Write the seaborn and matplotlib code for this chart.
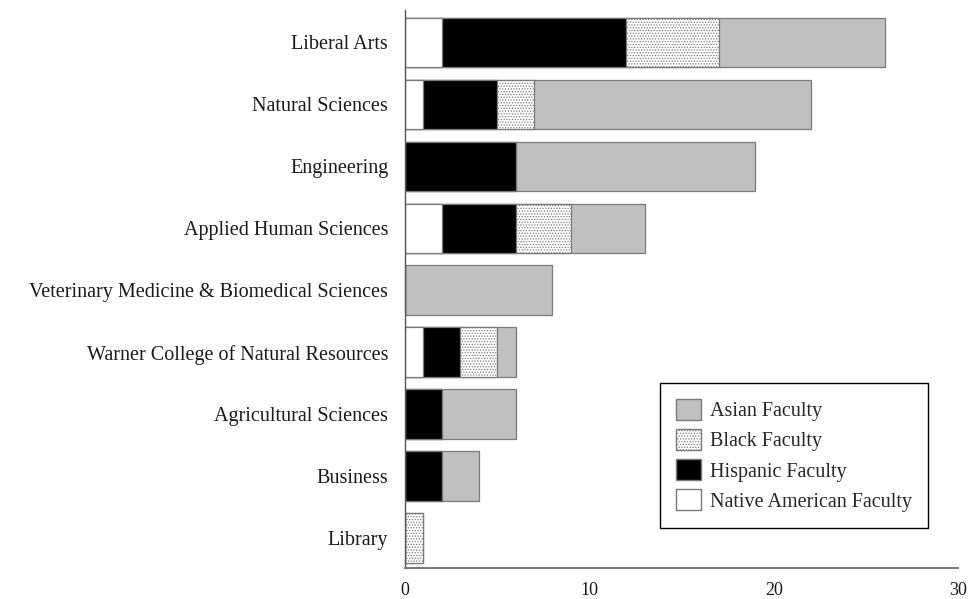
import numpy as np
import pandas as pd
import matplotlib
matplotlib.use("Agg")
import matplotlib.pyplot as plt
from matplotlib.patches import Patch
import seaborn as sns

colleges = [
    "Liberal Arts",
    "Natural Sciences",
    "Engineering",
    "Applied Human Sciences",
    "Veterinary Medicine & Biomedical Sciences",
    "Warner College of Natural Resources",
    "Agricultural Sciences",
    "Business",
    "Library",
]
native = [2, 1, 0, 2, 0, 1, 0, 0, 0]
hispanic = [10, 4, 6, 4, 0, 2, 2, 2, 0]
black = [5, 2, 0, 3, 0, 2, 0, 0, 1]
asian = [9, 15, 13, 4, 8, 1, 4, 2, 0]
x_ticks = [0, 10, 20, 30]

sns.set_theme(style="white")
plt.rcParams["font.family"] = ["Liberation Serif", "DejaVu Serif"]
plt.rcParams["hatch.color"] = "#9a9a9a"
plt.rcParams["hatch.linewidth"] = 0.6

df = pd.DataFrame({
    "college": colleges,
    "native": native,
    "hispanic": hispanic,
    "black": black,
    "asian": asian,
})
# cumulative ends, drawn from the longest down so each layer covers the next
df["c_native"] = df["native"]
df["c_hisp"] = df["c_native"] + df["hispanic"]
df["c_black"] = df["c_hisp"] + df["black"]
df["c_asian"] = df["c_black"] + df["asian"]

edge = "#7a7a7a"
fig, ax = plt.subplots(figsize=(9.71, 5.99), dpi=100)
fig.subplots_adjust(left=0.417, right=0.987, top=0.983, bottom=0.052)

layers = [
    ("c_asian", "#c0c0c0", None),
    ("c_black", "white", "......"),
    ("c_hisp", "black", None),
    ("c_native", "white", None),
]
for col, color, hatch in layers:
    sns.barplot(data=df, x=col, y="college", orient="h", color=color,
                edgecolor=edge, linewidth=0.9, width=0.8, saturation=1,
                hatch=hatch, ax=ax)

ax.set_xlim(0, 30)
ax.set_ylim(8.48, -0.52)
ax.set_xticks(x_ticks)
ax.set_xlabel("")
ax.set_ylabel("")
ax.tick_params(axis="both", length=0)
ax.tick_params(axis="y", labelsize=14.5, pad=12)
ax.tick_params(axis="x", labelsize=13, pad=10)
for lab in ax.get_yticklabels() + ax.get_xticklabels():
    lab.set_color("#1a1a1a")

sns.despine(ax=ax, top=True, right=True)
ax.spines["left"].set_color("#555555")
ax.spines["left"].set_linewidth(1.0)
ax.spines["bottom"].set_color("#6e6e6e")
ax.spines["bottom"].set_linewidth(1.3)

handles = [
    Patch(facecolor="#c0c0c0", edgecolor=edge, label="Asian Faculty"),
    Patch(facecolor="white", edgecolor=edge, hatch="......", label="Black Faculty"),
    Patch(facecolor="black", edgecolor=edge, label="Hispanic Faculty"),
    Patch(facecolor="white", edgecolor=edge, label="Native American Faculty"),
]
leg = ax.legend(handles=handles, loc="lower right", bbox_to_anchor=(0.946, 0.072),
                fontsize=14.5, frameon=True, fancybox=False, framealpha=1,
                edgecolor="black", handlelength=1.25, handleheight=1.25,
                handletextpad=0.45, labelspacing=0.38, borderpad=0.8,
                borderaxespad=0)
leg.get_frame().set_linewidth(1.0)

fig.savefig("out.png", dpi=100, facecolor="white")
